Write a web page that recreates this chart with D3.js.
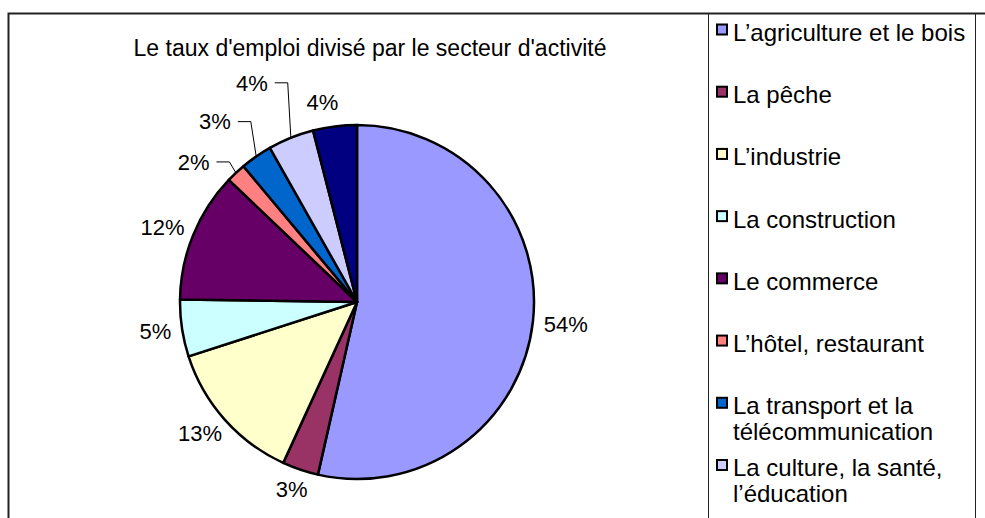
<!DOCTYPE html>
<html>
<head>
<meta charset="utf-8">
<script src="https://cdn.jsdelivr.net/npm/d3@7"></script>
<style>
  body { margin: 0; background: #fff; }
  text { font-family: "Liberation Sans", Arial, sans-serif; fill: #000; }
</style>
</head>
<body>
<div id="chart"></div>
<script>
const title = "Le taux d'emploi divisé par le secteur d'activité"

// sectors, clockwise from 12 o'clock (the 9th legend entry is cut off in the source)
const categories = [
    "L’agriculture et le bois",
    "La pêche",
    "L’industrie",
    "La construction",
    "Le commerce",
    "L’hôtel, restaurant",
    "La transport et la\ntélécommunication",
    "La culture, la santé,\nl’éducation",
    ""
]
const shares = [53.6, 3.3, 13.2, 5.2, 11.9, 1.8, 2.9, 4.2, 4.0]
const colors = ["#9999FF", "#993366", "#FFFFCC", "#CCFFFF", "#660066", "#FF8080", "#0066CC", "#CCCCFF", "#000080"]

const width = 985
const height = 518
const centroid = {cx: 357, cy: 302}
const radius = 177
const pctFormat = d3.format(".0%")

const svg = d3.select("#chart").append("svg")
    .attr("width", width)
    .attr("height", height)

// frame: plot area + legend box
svg.append("path")
    .attr("d", `M8.5,${height}V13.5H${width}`)
    .attr("fill", "none")
    .attr("stroke", "#222")
    .attr("stroke-width", 2)
svg.append("path")
    .attr("d", `M708.5,${height}V13.5M975.5,13.5V${height}`)
    .attr("fill", "none")
    .attr("stroke", "#222")
    .attr("stroke-width", 1)

svg.append("text")
    .attr("x", 370)
    .attr("y", 48)
    .attr("dy", "0.35em")
    .style("font-size", "23px")
    .style("text-anchor", "middle")
    .text(title)

const total = d3.sum(shares)
const pie = d3.pie().value(d => d).sort(null)
const arcs = pie(shares)
const arc = d3.arc().innerRadius(0).outerRadius(radius)

const chart = svg.append("g")
    .attr("transform", `translate(${centroid.cx},${centroid.cy})`)

chart.append("g")
    .selectAll("path")
    .data(arcs)
    .enter()
    .append("path")
    .attr("d", arc)
    .attr("fill", (d, i) => colors[i])
    .attr("stroke", "#000")
    .attr("stroke-width", 2.5)
    .attr("stroke-linejoin", "round")

// labels sit just outside the rim; the crowded small ones were dragged away in the source
const nudge = {5: [-24, 4], 6: [-26, -18], 7: [-29, -36], 8: [-9, -4]}
const leaders = [5, 6, 7]
const fontH = 19

const labels = chart.append("g")
    .selectAll("text")
    .data(arcs)
    .enter()
    .append("text")
    .style("font-size", "22px")
    .style("text-anchor", "middle")
    .attr("dy", "0.35em")
    .text(d => pctFormat(d.value / total))

labels.each(function(d, i) {
    const w = this.getComputedTextLength()
    const a = (d.startAngle + d.endAngle) / 2
    const s = Math.sin(a), c = -Math.cos(a)
    let x = (radius + 11) * s + w / 2 * s
    let y = (radius + 11) * c + fontH / 2 * c
    if (nudge[i]) {
        x += nudge[i][0]
        y += nudge[i][1]
    }
    d3.select(this).attr("x", x).attr("y", y)
    if (leaders.includes(i)) {
        const x0 = x + w / 2 + 7
        const x1 = x + w / 2 + 20
        chart.append("polyline")
            .attr("points", [[x0, y], [x1, y], [radius * s, radius * c]].map(p => p.join(",")).join(" "))
            .attr("fill", "none")
            .attr("stroke", "#000")
            .attr("stroke-width", 1)
    }
})

// legend
const legendItems = categories.map((name, i) => ({name, color: colors[i]})).filter(d => d.name)
const ly = d3.scaleLinear().domain([0, 7]).range([32.5, 468])

const legend = svg.append("g")
    .selectAll("g")
    .data(legendItems)
    .enter()
    .append("g")
    .attr("transform", (d, i) => `translate(716,${ly(i)})`)

legend.append("rect")
    .attr("x", 1)
    .attr("y", -8)
    .attr("width", 10)
    .attr("height", 10)
    .attr("fill", d => d.color)
    .attr("stroke", "#000")
    .attr("stroke-width", 2)

legend.append("text")
    .attr("x", 17)
    .style("font-size", "24px")
    .selectAll("tspan")
    .data(d => d.name.split("\n"))
    .enter()
    .append("tspan")
    .attr("x", 17)
    .attr("y", (d, i) => i * 26)
    .attr("dy", "0.35em")
    .text(d => d)
</script>
</body>
</html>
